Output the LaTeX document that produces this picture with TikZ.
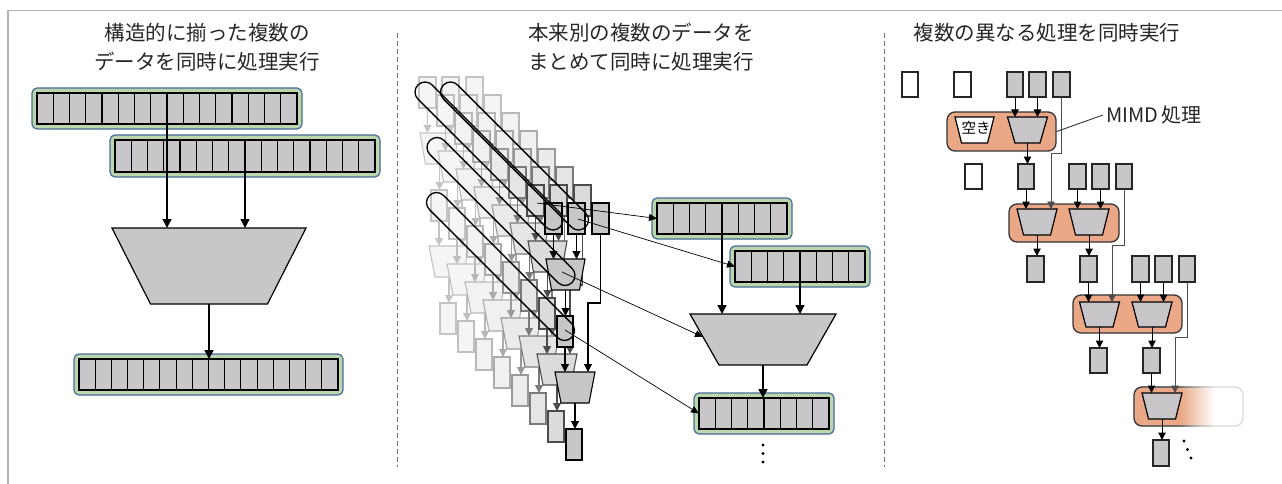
\documentclass[tikz,border=0pt]{standalone}
\usepackage{fontspec}
\setmainfont{Noto Sans CJK JP}
\usetikzlibrary{arrows.meta,calc}
\definecolor{cellgray}{RGB}{200,198,200}
\definecolor{regfill}{RGB}{187,214,171}
\definecolor{regedge}{RGB}{72,108,158}
\definecolor{orng}{RGB}{234,168,134}
\pgfdeclarehorizontalshading{orfade}{100bp}{color(0bp)=(orng); color(46bp)=(orng); color(62bp)=(white); color(100bp)=(white)}

\newcommand{\mkrect}[6]{\node[#6, inner sep=0pt, outer sep=0pt, minimum width={#4-#2}, minimum height={#5-#3}] (#1) at ({(#2+#4)/2},{(#3+#5)/2}) {};}
\newcommand{\mktrap}[7]{%
  \draw[#7] ({#2-(#4)/2},#3) -- ({#2+(#4)/2},#3) -- ({#2+(#5)/2},{#3+#6}) -- ({#2-(#5)/2},{#3+#6}) -- cycle;
  \node[inner sep=0pt, outer sep=0pt, minimum width=#4, minimum height=#6] (#1) at (#2,{#3+(#6)/2}) {};}
\newcommand{\mkreg}[6]{%
  \node[regbox, minimum width={#4-#2+10}, minimum height={#5-#3+10}] (#1) at ({(#2+#4)/2},{(#3+#5)/2}) {};
  \draw[cellbox] (#2,#3) rectangle (#4,#5);
  \pgfmathtruncatemacro{\nm}{#6-1}
  \foreach \i in {1,...,\nm} \draw[celldiv] ({#2+\i*(#4-#2)/#6},#3) -- ({#2+\i*(#4-#2)/#6},#5);}

\begin{document}
\begin{tikzpicture}[x=1pt,y=-1pt,
  regbox/.style={draw=regedge, fill=regfill, line width=1.2pt, rounded corners=5pt, inner sep=0pt, outer sep=0pt},
  cellbox/.style={draw=black, fill=cellgray, line width=1.1pt},
  celldiv/.style={draw=black, line width=1.1pt},
  alu/.style={draw=black, fill=cellgray, line width=1.2pt},
  aluw/.style={draw=black, fill=white, line width=1.2pt},
  rw/.style={draw=black!85, fill=white, line width=1.2pt},
  rgr/.style={draw=black!85, fill=cellgray, line width=1.2pt},
  unitbox/.style={draw=black!80, fill=orng, line width=1.3pt, rounded corners=8pt, inner sep=0pt},
  bigarr/.style={draw=black, line width=1.5pt, -{Triangle[length=9pt,width=9pt]}},
  smarr/.style={draw=black, line width=1pt, -{Triangle[length=7.5pt,width=7.5pt]}},
  elbow/.style={draw=black!70, line width=0.8pt, -{Triangle[length=7.5pt,width=7.5pt]}},
  thinarr/.style={draw=black, line width=0.7pt, -{Triangle[length=8pt,width=7pt]}},
  capsule/.style={draw=black, line width=1.3pt, rounded corners=10pt, minimum width=201pt, minimum height=20pt, inner sep=0pt, rotate=-45},
  ttl/.style={font=\fontsize{20.5}{29}\selectfont, text=black!85, align=center, inner sep=0pt},
  sepline/.style={draw=black!55, line width=0.9pt, dash pattern=on 5pt off 3pt}
]
\useasboundingbox (0,0) rectangle (1282,484);
% frame and separators
\draw[draw=black!30, line width=1.2pt] (8,484) -- (8,10.7) -- (1282,10.7);
\draw[sepline] (397,33) -- (397,467);
\draw[sepline] (884,33) -- (884,467);

% titles
\node[ttl] (title1) at (207,47.5) {構造的に揃った複数の\\データを同時に処理実行};
\node[ttl] (title2) at (641,47.5) {本来別の複数のデータを\\まとめて同時に処理実行};
\node[ttl] (title3) at (1047,33) {複数の異なる処理を同時実行};

% ---------------- left panel ----------------
\mkreg{lr1}{37}{93}{297}{124}{16}
\mkreg{lr2}{115}{140}{375}{172}{16}
\mktrap{lalu}{209}{228}{194}{117}{76}{alu}
\mkreg{lr3}{79}{359}{338}{390}{16}
\draw[bigarr] ([yshift=5pt]lr1.south) -- (lr1.south |- lalu.north);
\draw[bigarr] ([yshift=5pt]lr2.south) -- (lr2.south |- lalu.north);
\draw[bigarr] (lalu.south) -- ([yshift=-5pt]lalu.south |- lr3.north);

% ---------------- middle panel ----------------
\foreach \k/\fc/\dc in {7/4/23,6/4/25,5/5/28,4/6/33,3/8/40,2/10/52,1/14/70,0/22/100}{
 \begin{scope}[shift={(-18*\k,-18*\k)},
   lay/.style={draw=black!\dc, fill=black!\fc, line width=1.1pt},
   larr/.style={draw=black!\dc, line width=1.1pt, -{Triangle[length=8pt,width=8pt]}}]
  \mkrect{a\k}{545}{203}{562}{234}{lay}
  \mkrect{b\k}{568}{203}{585}{234}{lay}
  \mkrect{c\k}{592}{203}{609}{234}{lay}
  \mktrap{p\k}{565.5}{259}{39}{28}{31}{lay}
  \mkrect{d\k}{557}{316}{573}{347}{lay}
  \mktrap{q\k}{575}{372}{40}{28}{31}{lay}
  \mkrect{e\k}{566}{429}{582}{460}{lay}
  \draw[larr] (a\k.south) -- (a\k.south |- p\k.north);
  \draw[larr] (b\k.south) -- (b\k.south |- p\k.north);
  \draw[larr] (p\k.south) -- (p\k.south |- d\k.north);
  \draw[larr] (d\k.south) -- (d\k.south |- q\k.north);
  \draw[larr] (c\k.south) -- ++(0,69) -| ([xshift=13pt]q\k.north);
  \draw[larr] (q\k.south) -- (q\k.south |- e\k.north);
 \end{scope}
}
% capsules
\node[capsule] (cap1) at (489,156) {};
\node[capsule] (cap2) at (514.5,156) {};
\node[capsule] (cap3) at (501,211.5) {};
\node[capsule] (cap4) at (500.5,266.5) {};

% right part of middle panel
\mkreg{mr1}{657}{203}{787}{234}{8}
\mkreg{mr2}{735}{251}{865}{282}{8}
\mktrap{mbig}{763}{314}{146}{88}{51}{alu}
\mkreg{mr3}{699}{398}{829}{429}{8}
\draw[bigarr] ([yshift=5pt]mr1.south) -- (mr1.south |- mbig.north);
\draw[bigarr] ([yshift=5pt]mr2.south) -- (mr2.south |- mbig.north);
\draw[bigarr] (mbig.south) -- ([yshift=-5pt]mbig.south |- mr3.north);
\fill (763,445) circle (1.6) (763,453.5) circle (1.6) (763,462) circle (1.6);

\coordinate (s1) at (537,203);
\coordinate (s2) at (578,219);
\coordinate (s3) at (562,272);
\coordinate (s4) at (565,330);
\coordinate (bigl) at (703,337);
\draw[thinarr] (s1) -- ([xshift=5pt]mr1.west);
\draw[thinarr] (s2) -- ([xshift=5pt]mr2.west);
\draw[thinarr] (s3) -- (bigl);
\draw[thinarr] (s4) -- ([xshift=5pt]mr3.west);

% ---------------- right panel ----------------
% orange unit boxes
\node[unitbox, minimum width=109, minimum height=39] (u1) at (1001.5,131.5) {};
\node[unitbox, minimum width=110, minimum height=38] (u2) at (1064,223) {};
\node[unitbox, minimum width=109, minimum height=38] (u3) at (1127.5,314) {};
\shade[shading=orfade, rounded corners=8pt] (1134,387) rectangle (1243,426);
\draw[draw=black!15, line width=1.3pt, rounded corners=8pt] (1134,387) rectangle (1243,426);
\begin{scope}
 \clip (1120,380) rectangle (1180,433);
 \draw[draw=black!80, line width=1.3pt, rounded corners=8pt] (1134,387) rectangle (1243,426);
\end{scope}
\foreach \i/\c in {0/72,1/62,2/52,3/43,4/35,5/28,6/22,7/18}{
 \begin{scope}
  \clip ({1180+4*\i},380) rectangle ({1184+4*\i},433);
  \draw[draw=black!\c, line width=1.3pt, rounded corners=8pt] (1134,387) rectangle (1243,426);
 \end{scope}
}

% row 1
\mkrect{e1}{902}{72}{918}{97}{rw}
\mkrect{e2}{954}{72}{971}{97}{rw}
\mkrect{g11}{1007}{72}{1023}{97}{rgr}
\mkrect{g12}{1029}{72}{1046}{97}{rgr}
\mkrect{g13}{1053}{72}{1070}{97}{rgr}
\mktrap{t1w}{974.5}{117}{39}{26}{26}{aluw}
\node[font=\fontsize{14.5}{16}\selectfont, inner sep=0pt] (aki) at (976,127.5) {空き};
\mktrap{t1}{1027.5}{117}{40}{25}{26}{alu}
% row 2
\mkrect{e3}{965}{164}{982}{189}{rw}
\mkrect{g21}{1018}{164}{1034}{189}{rgr}
\mkrect{g22}{1069}{164}{1086}{189}{rgr}
\mkrect{g23}{1092}{164}{1109}{189}{rgr}
\mkrect{g24}{1116}{164}{1132}{189}{rgr}
\mktrap{t2a}{1037}{209}{40}{27}{26}{alu}
\mktrap{t2b}{1089}{209}{40}{27}{26}{alu}
% row 3
\mkrect{g31}{1027}{256}{1044}{282}{rgr}
\mkrect{g32}{1080}{256}{1097}{282}{rgr}
\mkrect{g33}{1132}{256}{1149}{282}{rgr}
\mkrect{g34}{1155}{256}{1172}{282}{rgr}
\mkrect{g35}{1179}{256}{1195}{282}{rgr}
\mktrap{t3a}{1099.5}{302}{40}{27}{25}{alu}
\mktrap{t3b}{1152}{302}{40}{27}{25}{alu}
% row 4
\mkrect{g41}{1090}{348}{1107}{373}{rgr}
\mkrect{g42}{1143}{348}{1160}{373}{rgr}
\mktrap{t4}{1162}{393}{40}{27}{26}{alu}
% row 5
\mkrect{g51}{1153}{440}{1169}{466}{rgr}
\fill (1184,441) circle (1.6) (1187.5,449.5) circle (1.6) (1191,458) circle (1.6);

% connections
\draw[smarr] (g11.south) -- (g11.south |- t1.north);
\draw[smarr] (g12.south) -- (g12.south |- t1.north);
\draw[elbow] (g13.south) -- ++(0,56) -| ([xshift=14pt]t2a.north);
\draw[smarr] (t1.south) -- (t1.south |- g21.north);
\draw[smarr] (g21.south) -- (g21.south |- t2a.north);
\draw[smarr] (g22.south) -- (g22.south |- t2b.north);
\draw[smarr] (g23.south) -- (g23.south |- t2b.north);
\draw[elbow] (g24.south) -- ++(0,56) -| ([xshift=12.5pt]t3a.north);
\draw[smarr] (t2a.south) -- (t2a.south |- g31.north);
\draw[smarr] (t2b.south) -- (t2b.south |- g32.north);
\draw[smarr] (g32.south) -- (g32.south |- t3a.north);
\draw[smarr] (g33.south) -- (g33.south |- t3b.north);
\draw[smarr] (g34.south) -- (g34.south |- t3b.north);
\draw[elbow] (g35.south) -- ++(0,55) -| ([xshift=13pt]t4.north);
\draw[smarr] (t3a.south) -- (t3a.south |- g41.north);
\draw[smarr] (t3b.south) -- (t3b.south |- g42.north);
\draw[smarr] (g42.south) -- (g42.south |- t4.north);
\draw[smarr] (t4.south) -- (t4.south |- g51.north);

% MIMD label
\node[anchor=west, font=\fontsize{20}{24}\selectfont, text=black!85] (mimd) at (1103,115) {MIMD\kern3pt 処理};
\draw[draw=black!80, line width=0.9pt] (u1.east) -- (mimd.west);
\end{tikzpicture}
\end{document}
